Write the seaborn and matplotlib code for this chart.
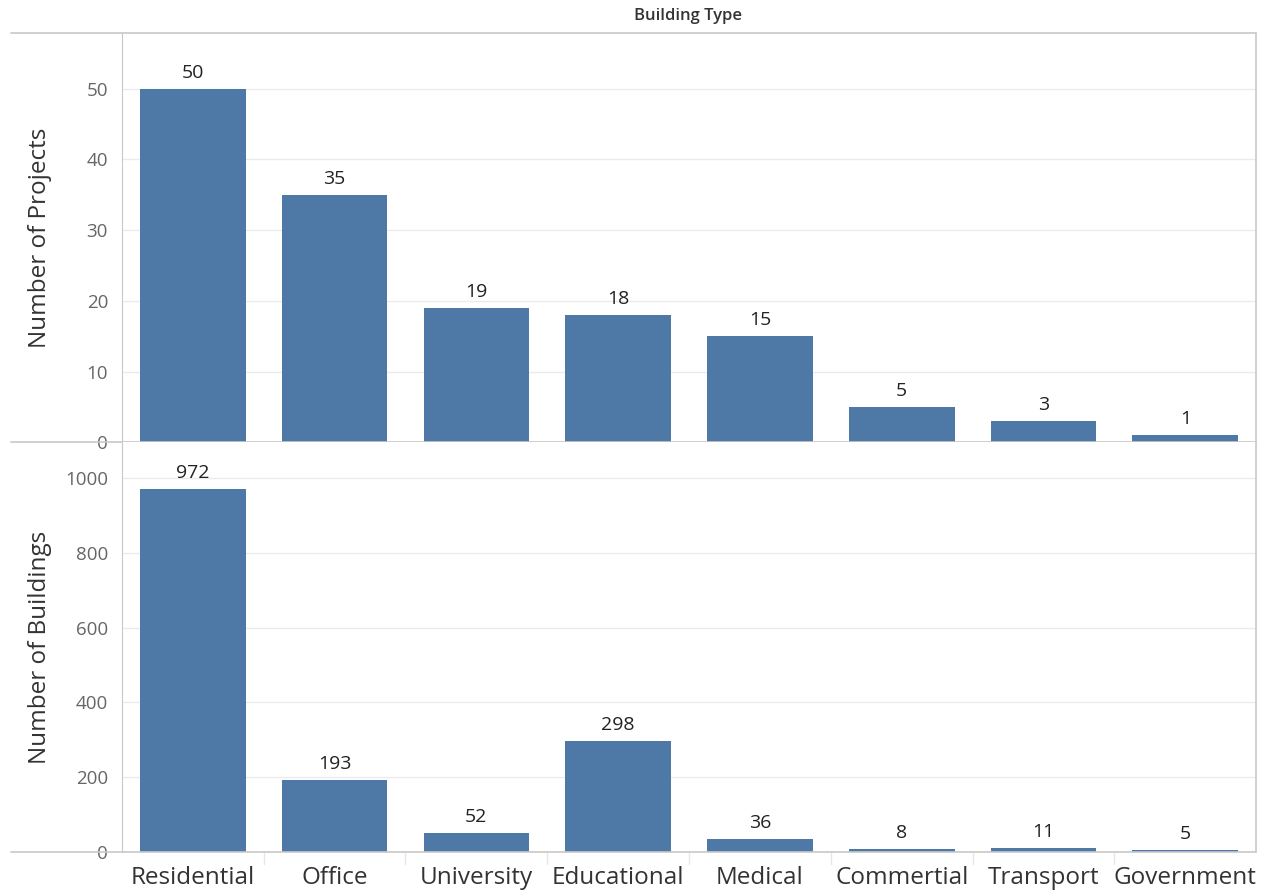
import pandas as pd
import numpy as np
import matplotlib.pyplot as plt
import seaborn as sns

# Chart data
building_types = ['Residential', 'Office', 'University', 'Educational',
                  'Medical', 'Commertial', 'Transport', 'Government']
num_projects = [50, 35, 19, 18, 15, 5, 3, 1]
num_buildings = [972, 193, 52, 298, 36, 8, 11, 5]

df = pd.DataFrame({'type': building_types,
                   'projects': num_projects,
                   'buildings': num_buildings})

sns.set_style('white')
plt.rcParams['font.family'] = ['Open Sans', 'DejaVu Sans']

bar_color = '#4e79a7'
grid_color = '#ebebeb'
line_color = '#c8c8c8'
tick_color = '#666666'

fig = plt.figure(figsize=(12.65, 8.9), dpi=100)
ax1 = fig.add_axes([0.0964, 0.503, 0.8966, 0.460])
ax2 = fig.add_axes([0.0964, 0.0427, 0.8966, 0.4603], sharex=ax1)

panels = [(ax1, 'projects', 'Number of Projects', [0, 10, 20, 30, 40, 50], 57.9),
          (ax2, 'buildings', 'Number of Buildings', [0, 200, 400, 600, 800, 1000], 1096)]

for ax, col, label, ticks, top in panels:
    sns.barplot(data=df, x='type', y=col, color=bar_color, width=0.746,
                saturation=1, linewidth=0, ax=ax, zorder=2)
    ax.set_ylim(0, top)
    ax.set_yticks(ticks)
    ax.set_yticklabels([str(t) for t in ticks], fontsize=13.5, color=tick_color)
    ax.set_ylabel(label, fontsize=17.5, color='#333333')
    ax.yaxis.set_label_coords(-0.062, 0.5)
    ax.set_xlabel('')
    ax.yaxis.grid(True, color=grid_color, lw=1, zorder=0)
    ax.tick_params(axis='y', length=6, color=grid_color, pad=4)
    for s in ['top', 'right', 'bottom', 'left']:
        ax.spines[s].set_visible(False)
    ax.spines['left'].set_visible(True)
    ax.spines['left'].set_color(line_color)
    # labels above bars
    for i, v in enumerate(df[col]):
        ax.annotate(str(v), (i, v), xytext=(0, 5), textcoords='offset points',
                    ha='center', va='bottom', fontsize=14, color='#222222')
    # baseline running into the left margin
    ax.plot([-0.098, 1.0], [0, 0], transform=ax.transAxes, color=line_color,
            lw=1.2, clip_on=False, zorder=3)
    # right border
    ax.plot([1.0, 1.0], [0, 1], transform=ax.transAxes, color=line_color,
            lw=1.2, clip_on=False, zorder=3)

ax1.tick_params(axis='x', bottom=False, labelbottom=False)
ax2.set_xticks(range(len(building_types)))
ax2.set_xticklabels(building_types, fontsize=17.5, color='#333333')
ax2.tick_params(axis='x', length=0, pad=10)
ax2.set_xlim(-0.5, len(building_types) - 0.5)

# category separators under the axis
for k in range(1, len(building_types)):
    ax2.plot([k - 0.5, k - 0.5], [0, -0.03], transform=ax2.get_xaxis_transform(),
             color='#e6e6e6', lw=1, clip_on=False)

# top border line and header
ax1.plot([-0.098, 1.0], [1, 1], transform=ax1.transAxes, color=line_color,
         lw=1.2, clip_on=False)
fig.text(0.544, 0.982, 'Building Type', ha='center', va='center',
         fontsize=12, fontweight='semibold', color='#333333')

fig.savefig('out.png', dpi=100)
